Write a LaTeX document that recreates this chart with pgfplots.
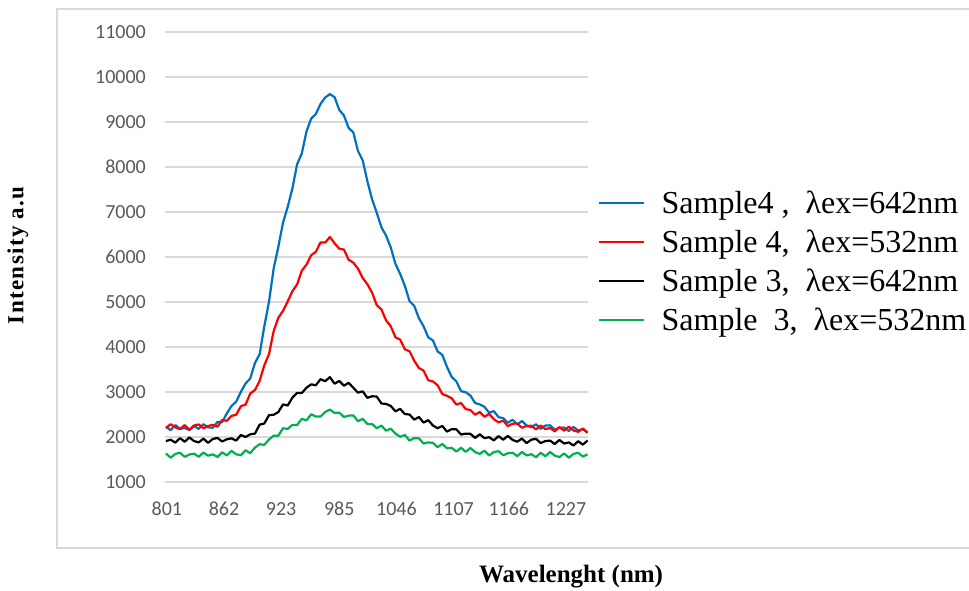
\documentclass[border=0pt]{standalone}
\usepackage{pgfplots}
\pgfplotsset{compat=1.18}
\usepackage{fontspec}
\setmainfont{Liberation Serif}
\newfontfamily\calibri{Carlito}
\definecolor{cblue}{HTML}{0070C0}
\definecolor{cred}{HTML}{FF0000}
\definecolor{cgreen}{HTML}{00B050}
\definecolor{gridgray}{HTML}{D9D9D9}
\definecolor{tickgray}{HTML}{595959}
\begin{document}
\begin{tikzpicture}
\useasboundingbox (-165pt,-108pt) rectangle (804pt,482pt);
\draw[color=gridgray, line width=1.5pt] (830pt,473pt) -- (-108pt,473pt) -- (-108pt,-66pt) -- (830pt,-66pt);
\begin{axis}[
  scale only axis, width=423pt, height=450pt,
  xmin=799, xmax=1250.5, ymin=1000, ymax=11000,
  scaled y ticks=false, scaled x ticks=false,
  axis line style={draw=none},
  major tick length=0pt,
  ytick={1000,2000,3000,4000,5000,6000,7000,8000,9000,10000,11000},
  yticklabels={1000,2000,3000,4000,5000,6000,7000,8000,9000,10000,11000},
  xtick={801,862,923,985,1046,1107,1166,1227},
  xticklabels={801,862,923,985,1046,1107,1166,1227},
  ymajorgrids, grid style={draw=gridgray, line width=1.3pt},
  tick label style={font=\calibri\fontsize{20}{23}\selectfont, text=tickgray, inner sep=0pt},
  yticklabel style={anchor=east, xshift=-19pt},
  xticklabel style={anchor=north, yshift=-20pt},
  xlabel={Wavelenght (nm)},
  ylabel={Intensity a.u},
  every axis x label/.style={at={(axis description cs:0.96,-0.211)}, anchor=center, font=\bfseries\fontsize{25}{30}\selectfont},
  every axis y label/.style={at={(axis description cs:-0.3475,0.504)}, anchor=center, rotate=90, font=\bfseries\fontsize{23}{27}\selectfont\addfontfeature{LetterSpace=6}},
  legend style={at={(axis description cs:1.0165,0.6515)}, anchor=north west, draw=none, fill=none,
    font=\fontsize{32}{38}\selectfont, row sep=15pt, column sep=17pt,
    nodes={inner sep=0pt}},
  legend cell align=left,
  legend image code/.code={\draw[#1, line width=1.5pt] (0pt,0pt) -- (45pt,0pt);},
  every axis plot/.append style={line width=2.2pt, line join=round},
]
\addplot[cblue] coordinates {
(800,2230) (805,2150) (810,2265) (815,2180) (820,2200) (825,2155) (830,2245) (835,2180) (840,2285) (845,2215)
(850,2205) (855,2335) (860,2330) (865,2525) (870,2690) (875,2785) (880,3005) (885,3190) (890,3300) (895,3645)
(900,3840) (905,4460) (910,5005) (915,5745) (920,6230) (925,6765) (930,7115) (935,7525) (940,8062) (945,8300)
(950,8788) (955,9075) (960,9178) (965,9402) (970,9545) (975,9620) (980,9553) (985,9270) (990,9145) (995,8868)
(1000,8768) (1005,8355) (1010,8148) (1015,7685) (1020,7285) (1025,6985) (1030,6660) (1035,6475) (1040,6210) (1045,5845)
(1050,5625) (1055,5360) (1060,5020) (1065,4915) (1070,4640) (1075,4460) (1080,4215) (1085,4145) (1090,3900) (1095,3825)
(1100,3555) (1105,3335) (1110,3235) (1115,3020) (1120,2995) (1125,2920) (1130,2755) (1135,2725) (1140,2670) (1145,2540)
(1150,2575) (1155,2440) (1160,2420) (1165,2315) (1170,2385) (1175,2280) (1180,2355) (1185,2255) (1190,2215) (1195,2285)
(1200,2180) (1205,2255) (1210,2260) (1215,2165) (1220,2205) (1225,2210) (1230,2135) (1235,2225) (1240,2145) (1245,2170)
(1250,2100)
};
\addlegendentry{Sample4 ,\ \ λex=642nm}
\addplot[cred] coordinates {
(800,2200) (805,2285) (810,2215) (815,2175) (820,2265) (825,2160) (830,2255) (835,2280) (840,2195) (845,2245)
(850,2270) (855,2230) (860,2375) (865,2360) (870,2470) (875,2495) (880,2685) (885,2720) (890,2965) (895,3045)
(900,3245) (905,3595) (910,3840) (915,4355) (920,4650) (925,4805) (930,5015) (935,5240) (940,5390) (945,5695)
(950,5830) (955,6040) (960,6115) (965,6325) (970,6320) (975,6445) (980,6305) (985,6185) (990,6165) (995,5940)
(1000,5875) (1005,5740) (1010,5535) (1015,5395) (1020,5210) (1025,4930) (1030,4835) (1035,4590) (1040,4460) (1045,4215)
(1050,4165) (1055,3950) (1060,3905) (1065,3695) (1070,3535) (1075,3475) (1080,3260) (1085,3235) (1090,3150) (1095,2955)
(1100,2915) (1105,2860) (1110,2720) (1115,2755) (1120,2620) (1125,2600) (1130,2495) (1135,2555) (1140,2450) (1145,2515)
(1150,2395) (1155,2325) (1160,2365) (1165,2240) (1170,2295) (1175,2300) (1180,2205) (1185,2245) (1190,2250) (1195,2170)
(1200,2255) (1205,2175) (1210,2200) (1215,2125) (1220,2220) (1225,2140) (1230,2230) (1235,2145) (1240,2115) (1245,2190)
(1250,2095)
};
\addlegendentry{Sample 4,\ \ λex=532nm}
\addplot[black] coordinates {
(800,1910) (805,1940) (810,1875) (815,1975) (820,1895) (825,1990) (830,1910) (835,1880) (840,1965) (845,1870)
(850,1955) (855,1980) (860,1900) (865,1950) (870,1970) (875,1920) (880,2045) (885,2000) (890,2060) (895,2075)
(900,2275) (905,2300) (910,2485) (915,2495) (920,2555) (925,2725) (930,2700) (935,2875) (940,2980) (945,2975)
(950,3095) (955,3170) (960,3150) (965,3285) (970,3240) (975,3330) (980,3185) (985,3245) (990,3140) (995,3205)
(1000,3095) (1005,2985) (1010,3015) (1015,2870) (1020,2905) (1025,2900) (1030,2745) (1035,2735) (1040,2690) (1045,2570)
(1050,2625) (1055,2510) (1060,2500) (1065,2385) (1070,2445) (1075,2320) (1080,2375) (1085,2255) (1090,2195) (1095,2245)
(1100,2120) (1105,2175) (1110,2170) (1115,2055) (1120,2075) (1125,2070) (1130,1980) (1135,2060) (1140,1975) (1145,1995)
(1150,1925) (1155,2020) (1160,1940) (1165,2025) (1170,1935) (1175,1895) (1180,1965) (1185,1865) (1190,1940) (1195,1960)
(1200,1865) (1205,1910) (1210,1920) (1215,1845) (1220,1935) (1225,1855) (1230,1880) (1235,1810) (1240,1907) (1245,1830)
(1250,1923)
};
\addlegendentry{Sample 3,\ \ λex=642nm}
\addplot[cgreen] coordinates {
(800,1635) (805,1540) (810,1625) (815,1650) (820,1560) (825,1610) (830,1630) (835,1560) (840,1655) (845,1585)
(850,1615) (855,1555) (860,1660) (865,1590) (870,1690) (875,1615) (880,1595) (885,1705) (890,1640) (895,1765)
(900,1840) (905,1825) (910,1945) (915,2030) (920,2030) (925,2195) (930,2180) (935,2270) (940,2265) (945,2405)
(950,2370) (955,2505) (960,2455) (965,2455) (970,2555) (975,2610) (980,2535) (985,2540) (990,2445) (995,2475)
(1000,2480) (1005,2350) (1010,2405) (1015,2290) (1020,2290) (1025,2195) (1030,2255) (1035,2140) (1040,2185) (1045,2075)
(1050,2005) (1055,2045) (1060,1920) (1065,1975) (1070,1970) (1075,1855) (1080,1880) (1085,1870) (1090,1775) (1095,1845)
(1100,1750) (1105,1760) (1110,1675) (1115,1760) (1120,1670) (1125,1755) (1130,1665) (1135,1625) (1140,1695) (1145,1590)
(1150,1665) (1155,1685) (1160,1595) (1165,1640) (1170,1650) (1175,1575) (1180,1667) (1185,1590) (1190,1618) (1195,1551)
(1200,1649) (1205,1573) (1210,1667) (1215,1586) (1220,1555) (1225,1635) (1230,1540) (1235,1625) (1240,1650) (1245,1565)
(1250,1615)
};
\addlegendentry{Sample\ \ 3,\ \ λex=532nm}
\end{axis}
\end{tikzpicture}
\end{document}
